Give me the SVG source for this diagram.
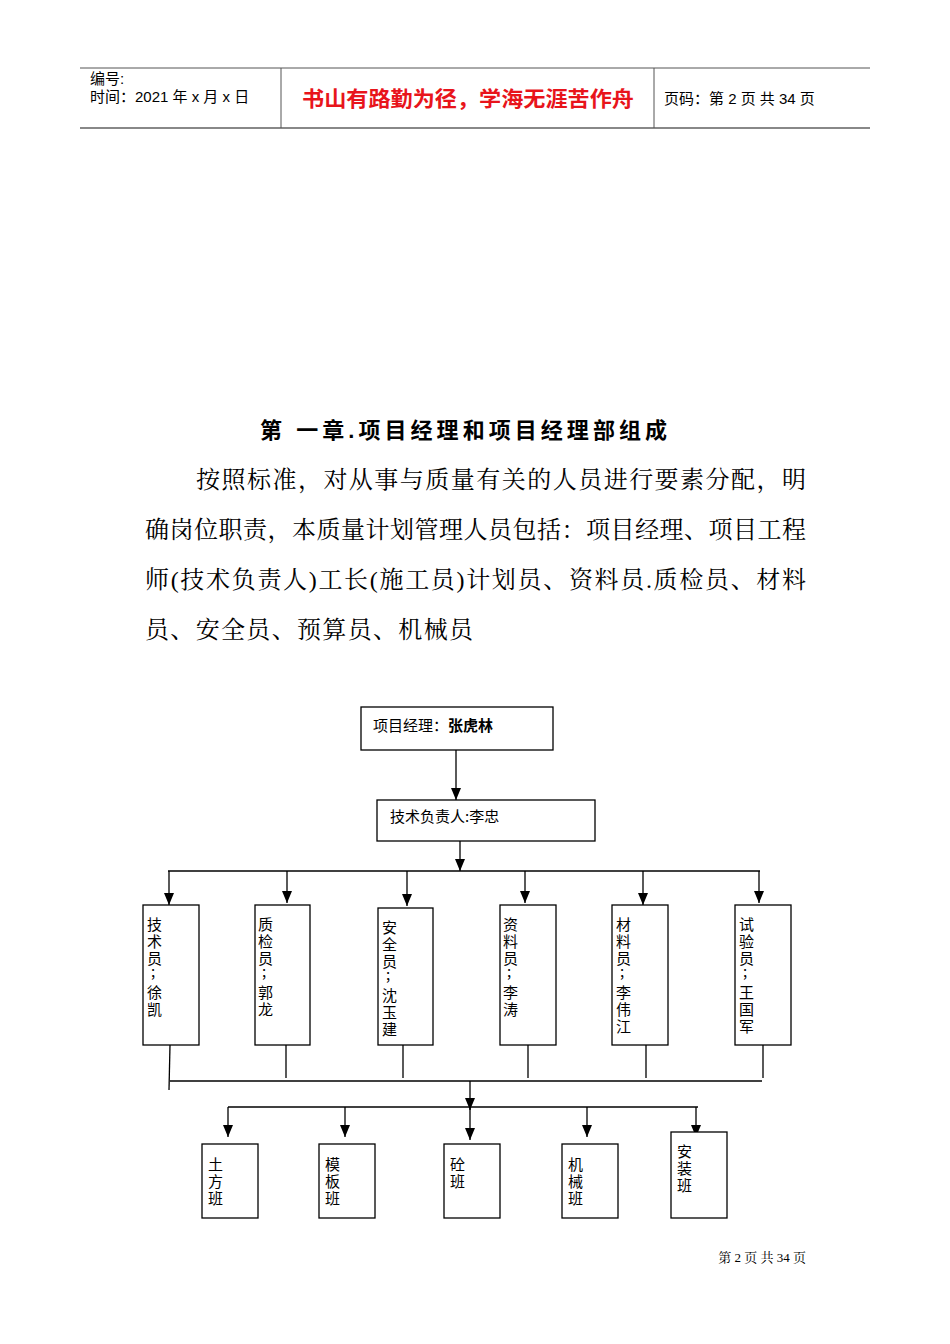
<svg xmlns="http://www.w3.org/2000/svg" width="950" height="1344" viewBox="0 0 950 1344">
<style>
.s{font-family:"Liberation Sans","Noto Sans CJK SC",sans-serif}
.r{font-family:"Liberation Serif","Noto Serif CJK SC","Noto Sans CJK SC",serif}
.b{fill:#fff;stroke:#000;stroke-width:1.3}
.l{stroke:#000;stroke-width:1.3;fill:none}
.v{font-family:"Noto Sans CJK SC",sans-serif;font-size:15px}
</style>
<defs>
<marker id="d" markerWidth="10" markerHeight="12" refX="5" refY="12" markerUnits="userSpaceOnUse"><path d="M0,0 L10,0 L5,12 Z"/></marker></defs>
<g id="header">
<line x1="80" y1="68" x2="870" y2="68" stroke="#555" stroke-width="1"/>
<line x1="80" y1="128" x2="870" y2="128" stroke="#888" stroke-width="2"/>
<line x1="281" y1="68" x2="281" y2="128" stroke="#555"/>
<line x1="654" y1="68" x2="654" y2="128" stroke="#555"/>
<text x="90" y="84" class="s" font-size="15">编号:</text>
<text x="90" y="102" class="s" font-size="15">时间：2021 年 x 月 x 日</text>
<text x="468" y="106" class="s" font-size="21" font-weight="bold" fill="#e8141b" text-anchor="middle" textLength="332" lengthAdjust="spacingAndGlyphs">书山有路勤为径，学海无涯苦作舟</text>
<text x="664" y="104" class="s" font-size="15">页码：第 2 页 共 34 页</text>
</g>
<g id="body">
<text x="260" y="438" class="s" font-size="22" font-weight="bold" textLength="407" lengthAdjust="spacing">第 一章.项目经理和项目经理部组成</text>
<text x="196" y="488" class="r" font-size="24" textLength="610" lengthAdjust="spacing">按照标准，对从事与质量有关的人员进行要素分配，明</text>
<text x="145" y="538" class="r" font-size="24" textLength="661" lengthAdjust="spacing">确岗位职责，本质量计划管理人员包括：项目经理、项目工程</text>
<text x="145" y="588" class="r" font-size="24" textLength="661" lengthAdjust="spacing">师(技术负责人)工长(施工员)计划员、资料员.质检员、材料</text>
<text x="145" y="638" class="r" font-size="24" textLength="328" lengthAdjust="spacing">员、安全员、预算员、机械员</text>
<text x="806" y="1262" class="r" font-size="13" text-anchor="end">第 2 页 共 34 页</text>
</g>
<g id="connectors">
<line class="l" x1="456" y1="750" x2="456" y2="800" marker-end="url(#d)"/>
<line class="l" x1="460" y1="841" x2="460" y2="871" marker-end="url(#d)"/>
<line class="l" x1="168" y1="871" x2="760" y2="871"/>
<line class="l" x1="169" y1="871" x2="169" y2="905" marker-end="url(#d)"/>
<line class="l" x1="287" y1="871" x2="287" y2="903" marker-end="url(#d)"/>
<line class="l" x1="407" y1="871" x2="407" y2="906" marker-end="url(#d)"/>
<line class="l" x1="525" y1="871" x2="525" y2="903" marker-end="url(#d)"/>
<line class="l" x1="643" y1="871" x2="643" y2="905" marker-end="url(#d)"/>
<line class="l" x1="759" y1="871" x2="759" y2="903" marker-end="url(#d)"/>
<line class="l" x1="170" y1="1045" x2="169" y2="1090"/>
<line class="l" x1="286" y1="1045" x2="286" y2="1078"/>
<line class="l" x1="403" y1="1045" x2="403" y2="1078"/>
<line class="l" x1="528" y1="1045" x2="528" y2="1078"/>
<line class="l" x1="646" y1="1045" x2="646" y2="1078"/>
<line class="l" x1="763" y1="1045" x2="763" y2="1078"/>
<line class="l" x1="170" y1="1081" x2="762" y2="1081"/>
<line class="l" x1="470" y1="1081" x2="470" y2="1110" marker-end="url(#d)"/>
<line class="l" x1="228" y1="1107" x2="698" y2="1107"/>
<line class="l" x1="228" y1="1107" x2="228" y2="1137" marker-end="url(#d)"/>
<line class="l" x1="345" y1="1107" x2="345" y2="1137" marker-end="url(#d)"/>
<line class="l" x1="470" y1="1107" x2="470" y2="1140" marker-end="url(#d)"/>
<line class="l" x1="587" y1="1107" x2="587" y2="1137" marker-end="url(#d)"/>
<line class="l" x1="696" y1="1107" x2="696" y2="1137" marker-end="url(#d)"/>
</g>
<g id="n-pm"><rect class="b" x="361" y="707" width="192" height="43"/><text x="373" y="731" class="v">项目经理：<tspan font-weight="bold">张虎林</tspan></text></g>
<g id="n-tech"><rect class="b" x="377" y="800" width="218" height="41"/><text x="390" y="822" class="v">技术负责人:李忠</text></g>
<g id="n1"><rect class="b" x="143" y="905" width="56" height="140"/><text class="v"><tspan x="147" y="930">技</tspan><tspan x="147" y="947">术</tspan><tspan x="147" y="964">员</tspan><tspan x="151" y="977">;</tspan><tspan x="147" y="998">徐</tspan><tspan x="147" y="1015">凯</tspan></text></g>
<g id="n2"><rect class="b" x="255" y="905" width="55" height="140"/><text class="v"><tspan x="258" y="930">质</tspan><tspan x="258" y="947">检</tspan><tspan x="258" y="964">员</tspan><tspan x="262" y="977">;</tspan><tspan x="258" y="998">郭</tspan><tspan x="258" y="1015">龙</tspan></text></g>
<g id="n3"><rect class="b" x="378" y="908" width="55" height="137"/><text class="v"><tspan x="382" y="933">安</tspan><tspan x="382" y="950">全</tspan><tspan x="382" y="967">员</tspan><tspan x="386" y="980">;</tspan><tspan x="382" y="1001">沈</tspan><tspan x="382" y="1018">玉</tspan><tspan x="382" y="1035">建</tspan></text></g>
<g id="n4"><rect class="b" x="500" y="905" width="56" height="140"/><text class="v"><tspan x="503" y="930">资</tspan><tspan x="503" y="947">料</tspan><tspan x="503" y="964">员</tspan><tspan x="507" y="977">;</tspan><tspan x="503" y="998">李</tspan><tspan x="503" y="1015">涛</tspan></text></g>
<g id="n5"><rect class="b" x="612" y="905" width="56" height="140"/><text class="v"><tspan x="616" y="930">材</tspan><tspan x="616" y="947">料</tspan><tspan x="616" y="964">员</tspan><tspan x="620" y="977">;</tspan><tspan x="616" y="998">李</tspan><tspan x="616" y="1015">伟</tspan><tspan x="616" y="1032">江</tspan></text></g>
<g id="n6"><rect class="b" x="735" y="905" width="56" height="140"/><text class="v"><tspan x="739" y="930">试</tspan><tspan x="739" y="947">验</tspan><tspan x="739" y="964">员</tspan><tspan x="743" y="977">;</tspan><tspan x="739" y="998">王</tspan><tspan x="739" y="1015">国</tspan><tspan x="739" y="1032">军</tspan></text></g>
<g id="b1"><rect class="b" x="202" y="1144" width="56" height="74"/><text class="v"><tspan x="208" y="1170">土</tspan><tspan x="208" y="1187">方</tspan><tspan x="208" y="1204">班</tspan></text></g>
<g id="b2"><rect class="b" x="319" y="1144" width="56" height="74"/><text class="v"><tspan x="325" y="1170">模</tspan><tspan x="325" y="1187">板</tspan><tspan x="325" y="1204">班</tspan></text></g>
<g id="b3"><rect class="b" x="444" y="1144" width="56" height="74"/><text class="v"><tspan x="450" y="1170">砼</tspan><tspan x="450" y="1187">班</tspan></text></g>
<g id="b4"><rect class="b" x="562" y="1144" width="56" height="74"/><text class="v"><tspan x="568" y="1170">机</tspan><tspan x="568" y="1187">械</tspan><tspan x="568" y="1204">班</tspan></text></g>
<g id="b5"><rect class="b" x="671" y="1132" width="56" height="86"/><text class="v"><tspan x="677" y="1157">安</tspan><tspan x="677" y="1174">装</tspan><tspan x="677" y="1191">班</tspan></text></g>
</svg>
